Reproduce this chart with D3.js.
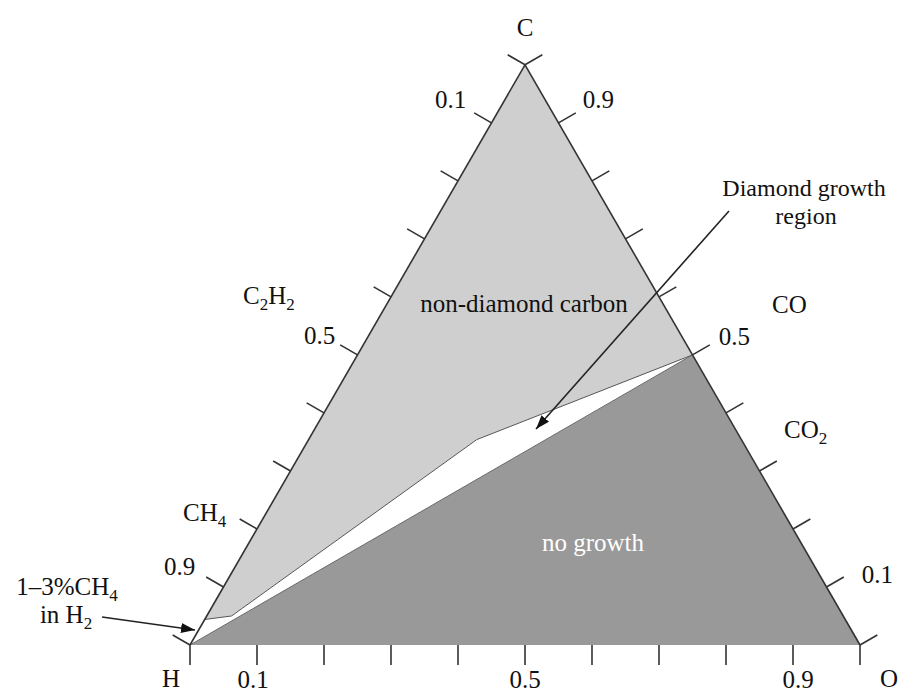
<!DOCTYPE html>
<html><head><meta charset="utf-8">
<script src="https://cdn.jsdelivr.net/npm/d3@7"></script>
<style>body{margin:0;background:#fff}svg{display:block}text{font-family:"Liberation Serif","Times New Roman",serif}</style>
</head><body><svg id="c" width="900" height="694"></svg>
<script>
// ---- data: compositions as [C, O] fractions (H = 1 - C - O) ----
const vertices = ["C","H","O"];
const tickValues = [0,0.1,0.2,0.3,0.4,0.5,0.6,0.7,0.8,0.9,1.0];
const tickLabels = ["0.1","0.5","0.9"];
const nonDiamondRegion = [[1,0],[0.044,0],[0.050,0.037],[0.354,0.251],[0.5,0.5]];
const noGrowthRegion = [[0,0],[0,1],[0.5,0.5]];
const diamondRegion = [[0.044,0],[0.050,0.037],[0.354,0.251],[0.5,0.5],[0,0]];
const species = ["C2H2","CH4","CO","CO2"];
const regionLabels = ["non-diamond carbon","no growth","Diamond growth region","1–3%CH4 in H2"];

const svg = d3.select("#c");
const S3 = Math.sqrt(3)/2;
const x = d3.scaleLinear().domain([0,1]).range([190,860]);
const y = d3.scaleLinear().domain([0,S3]).range([645,64.8]);
const P = ([c,o]) => [x(o + c/2), y(c*S3)];
const line = d3.line().x(d=>P(d)[0]).y(d=>P(d)[1]).curve(d3.curveLinearClosed);
const open = d3.line().x(d=>P(d)[0]).y(d=>P(d)[1]);

svg.append("path").attr("d", line(nonDiamondRegion)).attr("fill","#cfcfcf").attr("stroke","none");
svg.append("path").attr("d", line(noGrowthRegion)).attr("fill","#999").attr("stroke","none");
svg.append("path").attr("d", line(diamondRegion)).attr("fill","#fff").attr("stroke","none");
// boundaries of the diamond region
svg.append("path").attr("d", open(nonDiamondRegion.slice(1))).attr("fill","none").attr("stroke","#555").attr("stroke-width",1);
svg.append("path").attr("d", open([[0,0],[0.5,0.5]])).attr("fill","none").attr("stroke","#666").attr("stroke-width",1);

// triangle sides
const Cv=[1,0], Hv=[0,0], Ov=[0,1];
const edge = (a,b)=>svg.append("line").attr("x1",P(a)[0]).attr("y1",P(a)[1]).attr("x2",P(b)[0]).attr("y2",P(b)[1]).attr("stroke","#333").attr("stroke-width",1.6);
edge(Cv,Hv); edge(Cv,Ov);

const TL = 20;
const tickG = svg.append("g").attr("stroke","#333").attr("stroke-width",1.6);
// bottom: O fraction along H -> O
tickValues.forEach(t=>{
  const p=P([0,t]);
  tickG.append("line").attr("x1",p[0]).attr("y1",p[1]).attr("x2",p[0]).attr("y2",p[1]+TL);
});
// left side: from C (0) to H (1)
tickValues.forEach(t=>{
  const p=P([1-t,0]);
  tickG.append("line").attr("x1",p[0]).attr("y1",p[1]).attr("x2",p[0]-TL*S3).attr("y2",p[1]-TL*0.5);
});
// right side: C fraction from O (0) to C (1)
tickValues.forEach(t=>{
  const p=P([t,1-t]);
  tickG.append("line").attr("x1",p[0]).attr("y1",p[1]).attr("x2",p[0]+TL*S3).attr("y2",p[1]-TL*0.5);
});

const FS = 25;
const txt = (s,px,py,anchor,fill,fs)=>svg.append("text").attr("x",px).attr("y",py).attr("text-anchor",anchor||"start").attr("font-size",fs||FS).attr("fill",fill||"#111").text(s);

// tick labels
const leftOff = {"0.1":[-8,-5],"0.5":[-5,-1],"0.9":[-11,-2]};
const rightOff = {"0.9":[7,-5],"0.5":[9,0],"0.1":[18,6]};
const bottomOff = {"0.1":-4,"0.5":0,"0.9":5};
tickLabels.forEach(s=>{
  const t=+s;
  const pl=P([1-t,0]);
  txt(s, pl[0]-TL*S3+leftOff[s][0], pl[1]-TL*0.5+leftOff[s][1], "end");
  const pr=P([t,1-t]);
  txt(s, pr[0]+TL*S3+rightOff[s][0], pr[1]-TL*0.5+rightOff[s][1], "start");
  const pb=P([0,t]);
  txt(s, pb[0]+bottomOff[s], pb[1]+43, "middle");
});

// vertex labels
txt(vertices[0], P(Cv)[0], P(Cv)[1]-29, "middle");
txt(vertices[1], P(Hv)[0]-19, P(Hv)[1]+42, "middle");
txt(vertices[2], P(Ov)[0]+29, P(Ov)[1]+42, "middle");

// chemical labels with subscripts
function chem(str, px, py, anchor){
  const t = svg.append("text").attr("x",px).attr("y",py).attr("text-anchor",anchor||"start").attr("font-size",FS).attr("fill","#111");
  let sub=false;
  str.split(/(\d)/).filter(s=>s.length).forEach(part=>{
    if(/^\d$/.test(part)){
      t.append("tspan").attr("font-size",FS*0.68).attr("dy",6).text(part);
      sub=true;
    } else {
      const ts=t.append("tspan").text(part);
      if(sub){ts.attr("dy",-6); sub=false;}
    }
  });
  return t;
}
chem(species[0], 243, 304);
chem(species[1], 183, 521);
chem(species[2], 772, 313);
chem(species[3], 784, 438);

// region labels
txt(regionLabels[0], 524, 312, "middle");
txt(regionLabels[1], 593, 551, "middle", "#fff");
const dg = regionLabels[2].split(" ");
txt(dg[0]+" "+dg[1], 804, 196, "middle", "#111", 24);
txt(dg[2], 806, 224, "middle", "#111", 24);
// "1–3%CH4" / "in H2"
{
  const t1 = svg.append("text").attr("x",67).attr("y",595).attr("text-anchor","middle").attr("font-size",FS).attr("fill","#111");
  t1.append("tspan").text("1–3%CH");
  t1.append("tspan").attr("font-size",FS*0.68).attr("dy",6).text("4");
  const t2 = svg.append("text").attr("x",66).attr("y",623).attr("text-anchor","middle").attr("font-size",FS).attr("fill","#111");
  t2.append("tspan").text("in H");
  t2.append("tspan").attr("font-size",FS*0.68).attr("dy",6).text("2");
}

// arrows
svg.append("defs").append("marker").attr("id","ah").attr("viewBox","0 0 14 10").attr("refX",14).attr("refY",5)
  .attr("markerWidth",14).attr("markerHeight",10).attr("markerUnits","userSpaceOnUse").attr("orient","auto")
  .append("path").attr("d","M0,0L14,5L0,10Z").attr("fill","#111");
svg.append("line").attr("x1",729).attr("y1",211).attr("x2",536).attr("y2",429).attr("stroke","#222").attr("stroke-width",1.6).attr("marker-end","url(#ah)");
svg.append("line").attr("x1",102).attr("y1",617).attr("x2",195).attr("y2",630).attr("stroke","#222").attr("stroke-width",1.6).attr("marker-end","url(#ah)");
</script></body></html>
